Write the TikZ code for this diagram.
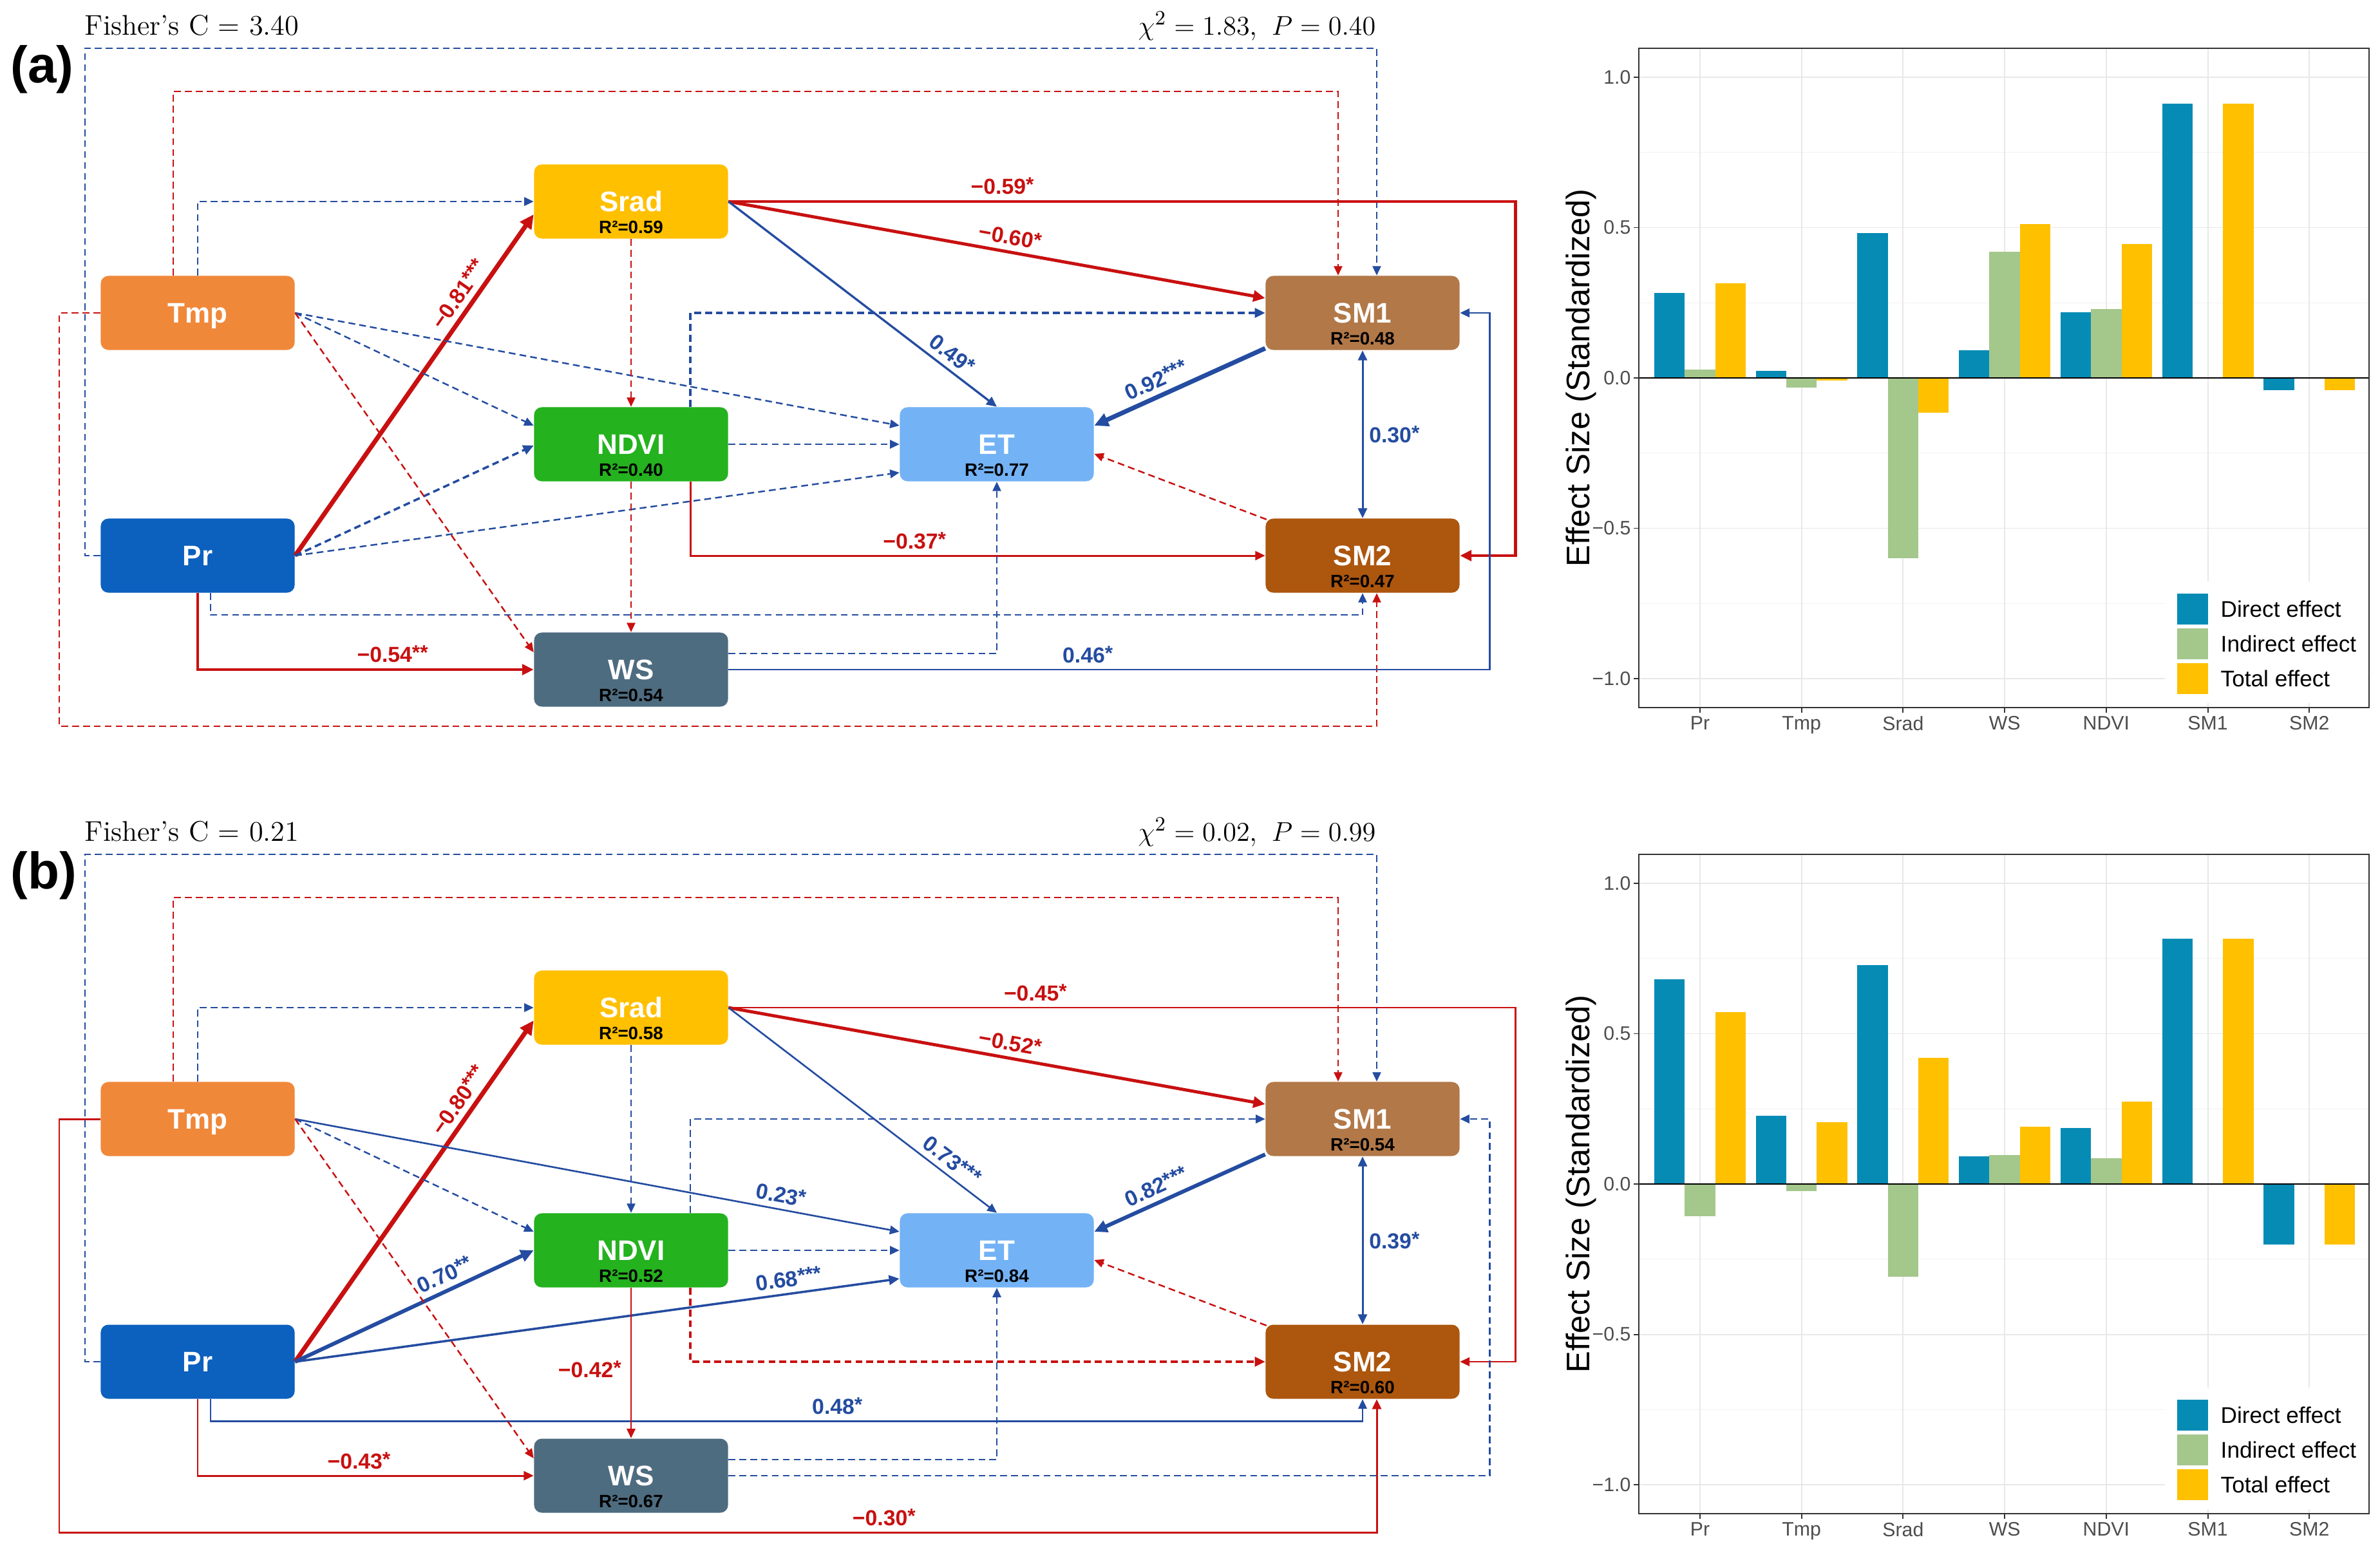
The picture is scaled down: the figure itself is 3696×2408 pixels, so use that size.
\documentclass[tikz,border=0pt]{standalone}
\usepackage{fontspec}
\newfontfamily\arialf{Liberation Sans}
\usetikzlibrary{arrows.meta,calc}
\definecolor{cred}{RGB}{200,16,16}
\definecolor{cblue}{RGB}{36,76,160}
\definecolor{cSrad}{RGB}{255,192,0}
\definecolor{cTmp}{RGB}{240,136,58}
\definecolor{cNDVI}{RGB}{36,178,30}
\definecolor{cET}{RGB}{115,178,245}
\definecolor{cPr}{RGB}{12,96,190}
\definecolor{cWS}{RGB}{78,108,128}
\definecolor{cSMa}{RGB}{178,120,72}
\definecolor{cSMb}{RGB}{172,86,14}
\definecolor{cDir}{RGB}{6,139,181}
\definecolor{cInd}{RGB}{164,199,140}
\definecolor{cTot}{RGB}{255,192,0}
\definecolor{gridc}{RGB}{232,232,232}
\definecolor{gridm}{RGB}{242,242,242}
\definecolor{framec}{RGB}{51,51,51}
\definecolor{tickc}{RGB}{77,77,77}

\newcommand{\nmf}{\arialf\bfseries\fontsize{12.5pt}{14pt}\selectfont}
\newcommand{\rsf}{\arialf\bfseries\fontsize{7.9pt}{9pt}\selectfont}
\newcommand{\elf}{\arialf\bfseries\fontsize{9.6pt}{11pt}\selectfont}
\newcommand{\titf}{\fontsize{12.6pt}{15pt}\selectfont}
\newcommand{\pnf}{\arialf\bfseries\fontsize{22.8pt}{26pt}\selectfont}
\newcommand{\axf}{\arialf\fontsize{14.4pt}{16pt}\selectfont}
\newcommand{\tkf}{\arialf\fontsize{8.6pt}{10pt}\selectfont}
\newcommand{\lgf}{\arialf\fontsize{10pt}{12pt}\selectfont}
\newcommand{\sg}[1]{\raisebox{0.12em}{\fontsize{9pt}{9pt}\selectfont #1}}

\tikzset{
  box/.style={rounded corners=3.4pt, minimum width=3.01cm, minimum height=1.15cm, inner sep=0pt, text=white, font=\nmf, text height=8.95pt, text depth=0pt},
  rsq/.style={anchor=base, yshift=2.6pt, font=\rsf, text=black, inner sep=0pt},
  arr/.style={-{Triangle[length=3pt 1.6,width=2.6pt 1.6]}},
  arr2/.style={{Triangle[length=3pt 1.6,width=2.6pt 1.6]}-{Triangle[length=3pt 1.6,width=2.6pt 1.6]}},
  dsh/.style={dash pattern=on 3pt off 1.8pt},
  rs/.style={draw=cred, line width=#1, arr}, rs/.default=0.85pt,
  bs/.style={draw=cblue, line width=#1, arr}, bs/.default=0.85pt,
  rd/.style={draw=cred, line width=#1, dsh, arr}, rd/.default=0.7pt,
  bd/.style={draw=cblue, line width=#1, dsh, arr}, bd/.default=0.7pt,
  lr/.style={font=\elf, text=cred, inner sep=2.5pt},
  lb/.style={font=\elf, text=cblue, inner sep=2.5pt},
  ttl/.style={font=\titf, inner sep=0pt},
}

\newcommand{\effchart}[2]{%
\begin{scope}[shift={(0,#1)}]
  \foreach \yv in {0.75,0.25,-0.25,-0.75}
    \draw[gridm, line width=0.3pt] (2545,{587-467*\yv}) -- (3679,{587-467*\yv});
  \foreach \yv in {1,0.5,-0.5,-1}
    \draw[gridc, line width=0.55pt] (2545,{587-467*\yv}) -- (3679,{587-467*\yv});
  \foreach \ci in {1,...,7}
    \draw[gridc, line width=0.55pt] ({2640+(\ci-1)*157.7},75) -- ({2640+(\ci-1)*157.7},1099);
  \fill[white] (3362,903) rectangle (3677,1092);
  \foreach \ci/\vd/\vn/\vt/\vl in {#2} {
    \fill[cDir] ({2640+(\ci-1)*157.7-71},587) rectangle ({2640+(\ci-1)*157.7-23.7},{587-467*\vd});
    \fill[cInd] ({2640+(\ci-1)*157.7-23.7},587) rectangle ({2640+(\ci-1)*157.7+23.7},{587-467*\vn});
    \fill[cTot] ({2640+(\ci-1)*157.7+23.7},587) rectangle ({2640+(\ci-1)*157.7+71},{587-467*\vt});
    \draw[framec, line width=0.55pt] ({2640+(\ci-1)*157.7},1099) -- ({2640+(\ci-1)*157.7},1107);
    \node[anchor=north, font=\tkf, text=tickc, inner sep=0pt] at ({2640+(\ci-1)*157.7},1112) {\vl};
  }
  \draw[black, line width=0.6pt] (2545,587) -- (3679,587);
  \draw[framec, line width=0.6pt] (2545,75) rectangle (3679,1099);
  \foreach \yv/\yl in {1/1.0,0.5/0.5,0/0.0,-0.5/−0.5,-1/−1.0} {
    \draw[framec, line width=0.55pt] (2537,{587-467*\yv}) -- (2545,{587-467*\yv});
    \node[anchor=east, font=\tkf, text=tickc, inner sep=0pt] at (2533,{587-467*\yv}) {\yl};
  }
  \node[rotate=90, font=\axf, inner sep=0pt] at (2455,587) {Effect Size (Standardized)};
  \fill[cDir] (3381,922) rectangle (3429,970);
  \fill[cInd] (3381,976) rectangle (3429,1024);
  \fill[cTot] (3381,1030) rectangle (3429,1078);
  \node[anchor=west, font=\lgf, inner sep=0pt] at (3448,946) {Direct effect};
  \node[anchor=west, font=\lgf, inner sep=0pt] at (3448,1000) {Indirect effect};
  \node[anchor=west, font=\lgf, inner sep=0pt] at (3448,1054) {Total effect};
\end{scope}}

\begin{document}
\begin{tikzpicture}[x=0.01cm, y=-0.01cm]
\useasboundingbox (0,0) rectangle (3696,2408);
\fill[white] (0,0) rectangle (3696,2408);

%================ PANEL (a) =================
\node[font=\pnf, anchor=base west, inner sep=0pt] (labA) at (16,128) {(a)};
\node[ttl, anchor=base west] (fisA) at (131,54) {Fisher’s C = 3.40};
\node[ttl, anchor=base east] (chiA) at (2137,54) {$\chi^2 = 1.83$,\enspace$P = 0.40$};

\node[box, fill=cSrad, label={[rsq]south:R²=0.59}] (SradA) at (980,313) {Srad};
\node[box, fill=cTmp] (TmpA) at (307,486) {Tmp};
\node[box, fill=cSMa, label={[rsq]south:R²=0.48}] (SM1A) at (2116,486) {SM1};
\node[box, fill=cNDVI, label={[rsq]south:R²=0.40}] (NDVIA) at (980,690) {NDVI};
\node[box, fill=cET, label={[rsq]south:R²=0.77}] (ETA) at (1548,690) {ET};
\node[box, fill=cPr] (PrA) at (307,863) {Pr};
\node[box, fill=cSMb, label={[rsq]south:R²=0.47}] (SM2A) at (2116,863) {SM2};
\node[box, fill=cWS, label={[rsq]south:R²=0.54}] (WSA) at (980,1040) {WS};

\draw[bd] (PrA.west) -| (132,75) -| ($(SM1A.north)+(22,0)$);
\draw[rd] ($(TmpA.north)+(-38,0)$) |- (1000,142) -| ($(SM1A.north)+(-38,0)$);
\draw[bd] (TmpA.north) |- (SradA.west);
\draw[rd] (TmpA.west) -| (92,1128) -| ($(SM2A.south)+(22,0)$);
\draw[bd] ($(PrA.south)+(20,0)$) |- ($(SM2A.south)+(0,34)$) -- (SM2A.south);
\draw[rs=1.3pt] (PrA.south) |- (WSA.west) node[lr, pos=0.79, above] {−0.54\sg{**}};
\draw[rs=2pt] (PrA.east) -- ($(SradA.west)+(0,20)$) node[lr, pos=0.74, sloped, above] {−0.81\sg{***}};
\draw[bd=1pt] (PrA.east) -- ($(NDVIA.west)+(0,2)$);
\draw[bd] (PrA.east) -- ($(ETA.west)+(0,44)$);
\draw[bd] (TmpA.east) -- ($(NDVIA.west)+(0,-29)$);
\draw[bd] (TmpA.east) -- ($(ETA.west)+(0,-29)$);
\draw[rd] (TmpA.east) -- ($(WSA.west)+(0,-27)$);
\draw[rd] (SradA.south) -- (NDVIA.north);
\draw[rd] (NDVIA.south) -- (WSA.north);
\draw[bd] (NDVIA.east) -- (ETA.west);
\draw[bd=1pt] ($(NDVIA.north)+(92,0)$) |- (SM1A.west);
\draw[rs=0.85pt] ($(NDVIA.south)+(92,0)$) |- (SM2A.west) node[lr, pos=0.695, above] {−0.37\sg{*}};
\draw[rs=1.4pt] (SradA.east) -- ($(SM1A.west)+(0,-23)$) node[lr, pos=0.52, sloped, above] {−0.60\sg{*}};
\draw[rs=1.3pt] (SradA.east) -- ($(SradA.east -| SM2A.east)+(86,0)$) node[lr, pos=0.348, above] {−0.59\sg{*}} |- (SM2A.east);
\draw[bs=0.95pt] (SradA.east) -- (ETA.north) node[lb, pos=0.8, sloped, above] {0.49\sg{*}};
\draw[bs=2pt] ($(SM1A.west)+(0,55)$) -- ($(ETA.east)+(0,-29)$) node[lb, pos=0.6, sloped, above] {0.92\sg{***}};
\draw[cblue, line width=0.85pt, arr2] (SM1A.south) -- (SM2A.north) node[lb, pos=0.5, right] {0.30\sg{*}};
\draw[rd] ($(SM2A.north west)+(2,2)$) -- ($(ETA.east)+(0,15)$);
\draw[bd] ($(WSA.east)+(0,-25)$) -| (ETA.south);
\draw[bs=0.75pt] (WSA.east) -| ($(SM1A.east)+(46,0)$) node[lb, pos=0.236, above] {0.46\sg{*}} -- (SM1A.east);

\effchart{0}{1/0.283/0.028/0.314/Pr, 2/0.023/-0.032/-0.008/Tmp, 3/0.482/-0.60/-0.116/Srad, 4/0.092/0.419/0.511/WS, 5/0.218/0.229/0.446/NDVI, 6/0.912/0/0.912/SM1, 7/-0.040/0/-0.040/SM2}

%================ PANEL (b) =================
\begin{scope}[shift={(0,1252)}]
\node[font=\pnf, anchor=base west, inner sep=0pt] (labB) at (16,128) {(b)};
\node[ttl, anchor=base west] (fisB) at (131,54) {Fisher’s C = 0.21};
\node[ttl, anchor=base east] (chiB) at (2137,54) {$\chi^2 = 0.02$,\enspace$P = 0.99$};

\node[box, fill=cSrad, label={[rsq]south:R²=0.58}] (SradB) at (980,313) {Srad};
\node[box, fill=cTmp] (TmpB) at (307,486) {Tmp};
\node[box, fill=cSMa, label={[rsq]south:R²=0.54}] (SM1B) at (2116,486) {SM1};
\node[box, fill=cNDVI, label={[rsq]south:R²=0.52}] (NDVIB) at (980,690) {NDVI};
\node[box, fill=cET, label={[rsq]south:R²=0.84}] (ETB) at (1548,690) {ET};
\node[box, fill=cPr] (PrB) at (307,863) {Pr};
\node[box, fill=cSMb, label={[rsq]south:R²=0.60}] (SM2B) at (2116,863) {SM2};
\node[box, fill=cWS, label={[rsq]south:R²=0.67}] (WSB) at (980,1040) {WS};

\draw[bd] (PrB.west) -| (132,75) -| ($(SM1B.north)+(22,0)$);
\draw[rd] ($(TmpB.north)+(-38,0)$) |- (1000,142) -| ($(SM1B.north)+(-38,0)$);
\draw[bd] (TmpB.north) |- (SradB.west);
\draw[rs=0.85pt] (TmpB.west) -| (92,1128) -| ($(SM2B.south)+(22,0)$) node[lr, pos=0.313, above] {−0.30\sg{*}};
\draw[bs=0.75pt] ($(PrB.south)+(20,0)$) |- ($(SM2B.south)+(0,34)$) node[lb, pos=0.772, above] {0.48\sg{*}} -- (SM2B.south);
\draw[rs=0.85pt] (PrB.south) |- (WSB.west) node[lr, pos=0.74, above] {−0.43\sg{*}};
\draw[rs=2pt] (PrB.east) -- ($(SradB.west)+(0,20)$) node[lr, pos=0.74, sloped, above] {−0.80\sg{***}};
\draw[bs=1.7pt] (PrB.east) -- (NDVIB.west) node[lb, pos=0.655, sloped, above] {0.70\sg{**}};
\draw[bs=1pt] (PrB.east) -- ($(ETB.west)+(0,44)$) node[lb, pos=0.82, sloped, above] {0.68\sg{***}};
\draw[bd] (TmpB.east) -- ($(NDVIB.west)+(0,-29)$);
\draw[bs=0.75pt] (TmpB.east) -- ($(ETB.west)+(0,-29)$) node[lb, pos=0.8, sloped, above] {0.23\sg{*}};
\draw[rd] (TmpB.east) -- ($(WSB.west)+(0,-27)$);
\draw[bd] (SradB.south) -- (NDVIB.north);
\draw[rs=0.75pt] (NDVIB.south) -- (WSB.north) node[lr, pos=0.54, left, inner sep=4pt] {−0.42\sg{*}};
\draw[bd] (NDVIB.east) -- (ETB.west);
\draw[bd] ($(NDVIB.north)+(92,0)$) |- (SM1B.west);
\draw[rd=1pt] ($(NDVIB.south)+(92,0)$) |- (SM2B.west);
\draw[rs=1.4pt] (SradB.east) -- ($(SM1B.west)+(0,-23)$) node[lr, pos=0.52, sloped, above] {−0.52\sg{*}};
\draw[rs=0.75pt] (SradB.east) -- ($(SradB.east -| SM2B.east)+(86,0)$) node[lr, pos=0.39, above] {−0.45\sg{*}} |- (SM2B.east);
\draw[bs=0.75pt] (SradB.east) -- (ETB.north) node[lb, pos=0.8, sloped, above] {0.73\sg{***}};
\draw[bs=1.7pt] ($(SM1B.west)+(0,55)$) -- ($(ETB.east)+(0,-29)$) node[lb, pos=0.6, sloped, above] {0.82\sg{***}};
\draw[cblue, line width=0.85pt, arr2] (SM1B.south) -- (SM2B.north) node[lb, pos=0.5, right] {0.39\sg{*}};
\draw[rd] ($(SM2B.north west)+(2,2)$) -- ($(ETB.east)+(0,15)$);
\draw[bd] ($(WSB.east)+(0,-25)$) -| (ETB.south);
\draw[bd] (WSB.east) -| ($(SM1B.east)+(46,0)$) -- (SM1B.east);
\end{scope}

\effchart{1252}{1/0.681/-0.108/0.571/Pr, 2/0.227/-0.024/0.206/Tmp, 3/0.729/-0.309/0.42/Srad, 4/0.092/0.097/0.190/WS, 5/0.187/0.086/0.274/NDVI, 6/0.816/0/0.816/SM1, 7/-0.201/0/-0.201/SM2}

\end{tikzpicture}
\end{document}
